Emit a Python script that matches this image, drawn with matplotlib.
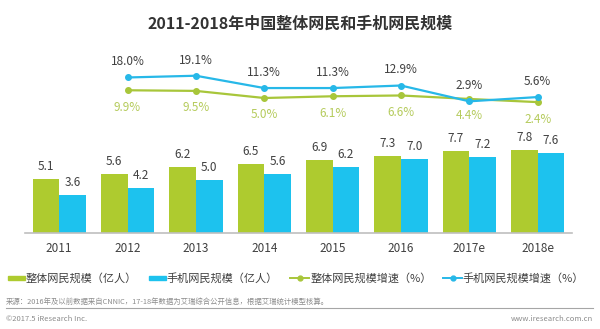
import matplotlib
matplotlib.use('Agg')
import matplotlib.pyplot as plt
from matplotlib.patches import Rectangle
from matplotlib.lines import Line2D
import numpy as np

plt.rcParams['font.family'] = ['Noto Sans CJK SC', 'DejaVu Sans']

years = ['2011', '2012', '2013', '2014', '2015', '2016', '2017e', '2018e']
total_users = [5.1, 5.6, 6.2, 6.5, 6.9, 7.3, 7.7, 7.8]     # 亿人
mobile_users = [3.6, 4.2, 5.0, 5.6, 6.2, 7.0, 7.2, 7.6]    # 亿人
growth_years = years[1:]
total_growth = [9.9, 9.5, 5.0, 6.1, 6.6, 4.4, 2.4]         # %
mobile_growth = [18.0, 19.1, 11.3, 11.3, 12.9, 2.9, 5.6]   # %

GREEN = '#AECB2F'
BLUE = '#1DC2EE'
LINE_GREEN = '#A8C63A'
LINE_BLUE = '#27B8E8'
DARK = '#404040'

fig = plt.figure(figsize=(6, 3.29), dpi=100)
ax = fig.add_axes([0.0417, 0.2927, 0.9113, 0.5857])

x = np.arange(len(years))
w = 0.39
ax.bar(x - w / 2, total_users, w, color=GREEN)
ax.bar(x + w / 2, mobile_users, w, color=BLUE)
for xi, v in zip(x, total_users):
    ax.annotate(f'{v:.1f}', (xi - w / 2, v), xytext=(0, 9), textcoords='offset points',
                ha='center', va='center', fontsize=8.5, color=DARK)
for xi, v in zip(x, mobile_users):
    ax.annotate(f'{v:.1f}', (xi + w / 2, v), xytext=(0, 9), textcoords='offset points',
                ha='center', va='center', fontsize=8.5, color=DARK)

ax.set_xlim(-0.5, 7.5)
ax.set_ylim(0, 18.27)
ax.set_xticks(x)
ax.set_xticklabels(years, fontsize=8.5, color=DARK)
ax.tick_params(axis='x', length=0, pad=7)
ax.set_yticks([])
for s in ['top', 'left', 'right']:
    ax.spines[s].set_visible(False)
ax.spines['bottom'].set_color('#BFBFBF')
ax.spines['bottom'].set_linewidth(1.2)

# growth rates on a second axis
ax2 = ax.twinx()
gx = x[1:]
ax2.plot(gx, total_growth, color=LINE_GREEN, lw=1.6, marker='o', ms=4)
ax2.plot(gx, mobile_growth, color=LINE_BLUE, lw=1.6, marker='o', ms=4)
for xi, v in zip(gx, mobile_growth):
    ax2.annotate(f'{v:.1f}%', (xi, v), xytext=(0, 11.2), textcoords='offset points',
                 ha='center', va='center', fontsize=8.5, color=DARK)
for xi, v in zip(gx, total_growth):
    ax2.annotate(f'{v:.1f}%', (xi, v), xytext=(0, -12.2), textcoords='offset points',
                 ha='center', va='center', fontsize=8.5, color='#B5CB5C')
ax2.set_ylim(-80.25, 41.71)
ax2.set_yticks([])
for s in ['top', 'left', 'right', 'bottom']:
    ax2.spines[s].set_visible(False)

fig.text(0.5, 1 - 24 / 329, '2011-2018年中国整体网民和手机网民规模', ha='center', va='center',
         fontsize=11.5, fontweight='bold', color='#333333')

# legend row
ly = 1 - 278.3 / 329
def px(v):
    return v / 600

fig.patches.append(Rectangle((px(8.3), 1 - 280.3 / 329), px(16.7), 4.3 / 329,
                             transform=fig.transFigure, color=GREEN))
fig.text(px(26), ly, '整体网民规模（亿人）', ha='left', va='center', fontsize=8, color=DARK)
fig.patches.append(Rectangle((px(149), 1 - 280.3 / 329), px(16.7), 4.3 / 329,
                             transform=fig.transFigure, color=BLUE))
fig.text(px(166.7), ly, '手机网民规模（亿人）', ha='left', va='center', fontsize=8, color=DARK)
fig.lines.append(Line2D([px(290), px(309.3)], [ly, ly], transform=fig.transFigure,
                        color=LINE_GREEN, lw=1.4))
fig.lines.append(Line2D([px(299.6)], [ly], transform=fig.transFigure, color=LINE_GREEN,
                        marker='o', ms=3.5))
fig.text(px(310.7), ly, '整体网民规模增速（%）', ha='left', va='center', fontsize=8, color=DARK)
fig.lines.append(Line2D([px(443.3), px(461.7)], [ly, ly], transform=fig.transFigure,
                        color=LINE_BLUE, lw=1.4))
fig.lines.append(Line2D([px(452.5)], [ly], transform=fig.transFigure, color=LINE_BLUE,
                        marker='o', ms=3.5))
fig.text(px(462), ly, '手机网民规模增速（%）', ha='left', va='center', fontsize=8, color=DARK)

# footer
fig.text(px(6), 1 - 302 / 329,
         '来源：2016年及以前数据来自CNNIC，17-18年数据为艾瑞综合公开信息，根据艾瑞统计模型核算。',
         ha='left', va='center', fontsize=5.3, color='#8C8C8C')
fig.lines.append(Line2D([px(6), px(593)], [1 - 308.3 / 329] * 2, transform=fig.transFigure,
                        color='#A6A6A6', lw=0.8))
fig.text(px(6), 1 - 319 / 329, '©2017.5 iResearch Inc.', ha='left', va='center',
         fontsize=5.5, color='#8C8C8C')
fig.text(px(593), 1 - 319 / 329, 'www.iresearch.com.cn', ha='right', va='center',
         fontsize=5.5, color='#8C8C8C')

fig.savefig('out.png', dpi=100)
